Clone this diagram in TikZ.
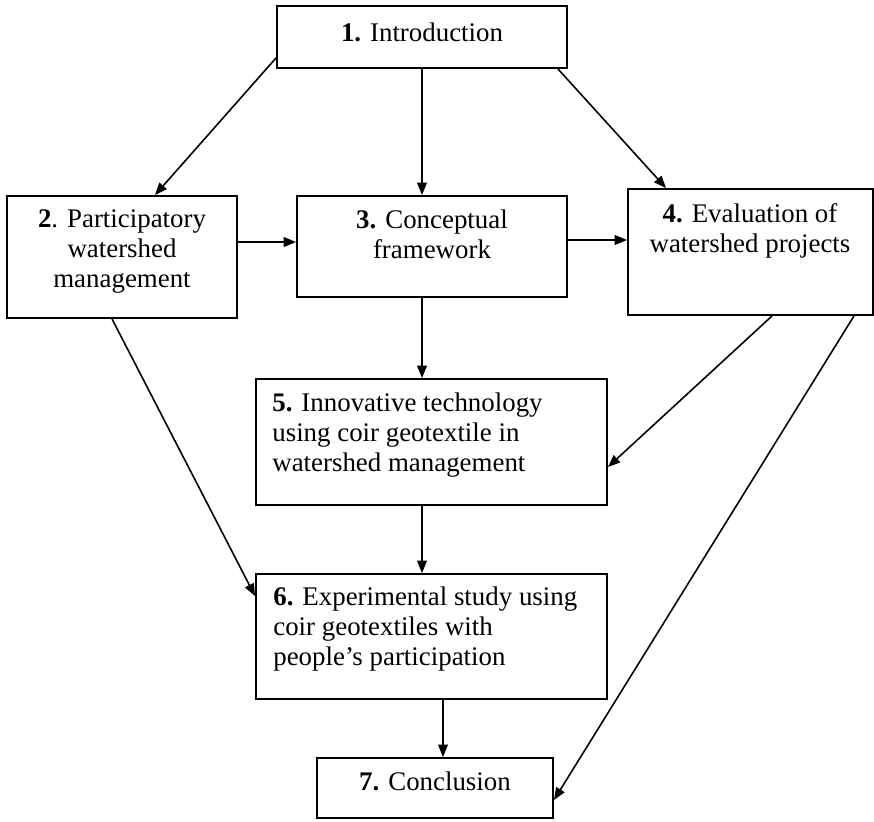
\documentclass[tikz,border=0pt]{standalone}
\usepackage{fontspec}
\setmainfont{Liberation Serif}
\usetikzlibrary{arrows.meta,fit}

\begin{document}
\begin{tikzpicture}[x=0.02cm, y=-0.02cm,
        box/.style={draw, line width=1.1pt, inner sep=0pt},
        txt/.style={inner sep=0pt, anchor=north, align=center,
            font={\fontsize{15.3}{17.1}\selectfont}, execute at begin node=\strut},
        arr/.style={line width=0.9pt, -{Triangle[length=7pt, width=5.5pt]}}]
            \useasboundingbox (0,0) rectangle (874,821);

            \node[box, fit={(277,6) (567,68)}] (intro) {};
            \node[box, fit={(7,196) (237,318)}] (partic) {};
            \node[box, fit={(297,196) (567,297)}] (concept) {};
            \node[box, fit={(628,189) (873,315)}] (evalu) {};
            \node[box, fit={(256,379) (607,505)}] (innov) {};
            \node[box, fit={(256,574) (607,699)}] (exper) {};
            \node[box, fit={(317,758) (553,818)}] (concl) {};

            \node[txt] (introtxt) at (422,20) {\textbf{1.} Introduction};
            \node[txt] (partictxt) at (122,209) {\textbf{2}. Participatory\\watershed\\management};
            \node[txt] (concepttxt) at (432,209) {\textbf{3.} Conceptual\\framework};
            \node[txt] (evalutxt) at (750,203) {\textbf{4.} Evaluation of\\watershed projects};
            \node[txt, anchor=north west, align=left] (innovtxt) at (272,392) {\textbf{5.} Innovative technology\\using coir geotextile in\\watershed management};
            \node[txt, anchor=north west, align=left] (expertxt) at (273,586) {\textbf{6.} Experimental study using\\coir geotextiles with\\people's participation};
            \node[txt] (concltxt) at (435,769) {\textbf{7.} Conclusion};

            \draw[arr] ([yshift=0.22cm]intro.south west) -- ([xshift=0.66cm]partic.north);
            \draw[arr] (intro.south) -- (intro.south |- concept.north);
            \draw[arr] ([xshift=-0.2cm]intro.south east) -- ([xshift=0.78cm]evalu.north west);

            \draw[arr] ([yshift=0.09cm]concept.west -| partic.east) -- ([yshift=0.09cm]concept.west);
            \draw[arr] ([yshift=0.13cm]concept.east) -- ([yshift=0.13cm]concept.east -| evalu.west);

            \draw[arr] ([xshift=-0.2cm]concept.south) -- ([xshift=-0.2cm]concept.south |- innov.north);
            \draw[arr] ([xshift=0.43cm]evalu.south) -- ([yshift=-0.5cm]innov.east);
            \draw[arr] ([xshift=-0.4cm]evalu.south east) -- ([yshift=-0.24cm]concl.east);
            \draw[arr] ([xshift=-0.2cm]partic.south) -- ([yshift=-0.46cm]exper.north west);

            \draw[arr] ([xshift=-0.19cm]innov.south) -- ([xshift=-0.19cm]innov.south |- exper.north);
            \draw[arr] ([xshift=0.23cm]exper.south) -- ([xshift=0.23cm]exper.south |- concl.north);
        \end{tikzpicture}
\end{document}
